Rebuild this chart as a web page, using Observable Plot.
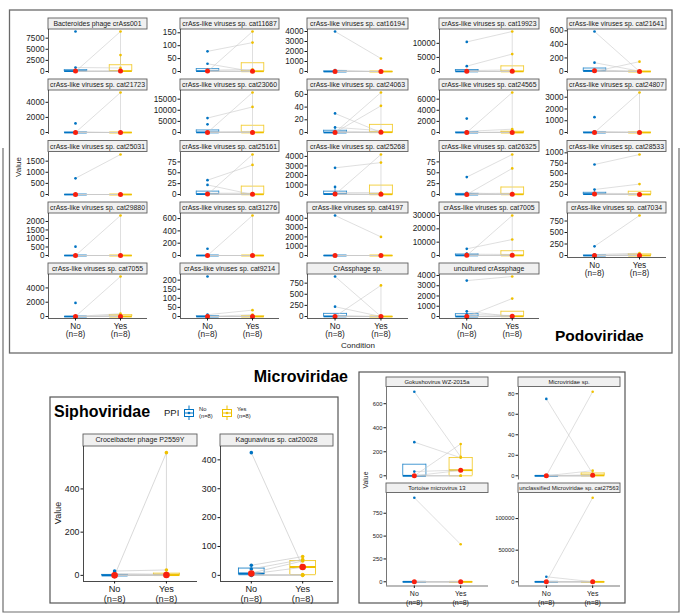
<!DOCTYPE html>
<html><head><meta charset="utf-8">
<script src="https://cdn.jsdelivr.net/npm/d3@7"></script>
<script src="https://cdn.jsdelivr.net/npm/@observablehq/plot@0.6"></script>
<style>
body{margin:0;background:#fff;}
#fig{position:relative;width:681px;height:614px;overflow:hidden;background:#fff;font-family:"Liberation Sans",Arial,Helvetica,sans-serif;}
#fig svg{position:absolute;}
</style></head><body><div id="fig"></div>
<script>
// ---------------- DATA ----------------
const conditions = ["No", "Yes"];
const nLabels = ["(n=8)", "(n=8)"];
const legendTitle = "PPI";
const groupTitles = ["Podoviridae", "Siphoviridae", "Microviridae"];

const podoNames = [
 "Bacteroides phage crAss001","crAss-like viruses sp. cat11687","crAss-like viruses sp. cat16194","crAss-like viruses sp. cat19923","crAss-like viruses sp. cat21641",
 "crAss-like viruses sp. cat21723","crAss-like viruses sp. cat23060","crAss-like viruses sp. cat24063","crAss-like viruses sp. cat24565","crAss-like viruses sp. cat24807",
 "crAss-like viruses sp. cat25031","crAss-like viruses sp. cat25161","crAss-like viruses sp. cat25268","crAss-like viruses sp. cat26325","crAss-like viruses sp. cat28533",
 "crAss-like viruses sp. cat29880","crAss-like viruses sp. cat31276","crAss-like viruses sp. cat4197","crAss-like viruses sp. cat7005","crAss-like viruses sp. cat7034",
 "crAss-like viruses sp. cat7055","crAss-like viruses sp. cat9214","CrAssphage sp.","uncultured crAssphage"];
const podoNo = [
 [9000,900,0,250,150,50,0,0],[0,78,30,5,3,0,0,0],[4000,150,0,0,0,0,0,0],[10500,1900,300,100,0,0,0,0],[590,0,130,25,15,5,0,0],
 [0,1200,100,0,0,0,0,0],[0,6500,3700,300,100,0,0,0],[0,0,30,8,2,0,0,0],[0,200,2500,0,0,0,0,0],[0,100,1300,0,0,0,0,0],
 [730,0,0,0,0,0,0,0],[0,33,22,3,2,0,0,0],[0,2800,800,200,100,0,0,0],[40,0,4,2,0,0,0,0],[720,120,30,20,0,0,0,0],
 [0,520,0,0,0,0,0,0],[0,110,0,0,0,0,0,0],[4300,0,0,0,0,0,0,0],[0,5000,1500,1000,200,0,0,0],[200,20,0,0,0,0,0,0],
 [0,1900,0,0,0,0,0,0],[220,10,0,0,0,0,0,0],[900,0,220,20,5,0,0,0],[3500,0,500,200,0,0,0,0]];
const podoYes = [
 [0,800,9000,3700,200,0,0,0],[155,112,0,8,2,0,0,0],[1300,0,0,0,0,0,0,0],[14200,6200,600,100,0,0,0,0],[0,145,5,0,0,0,0,0],
 [5300,0,0,0,0,0,0,0],[18000,11500,0,500,100,0,0,0],[63,42,0,3,1,0,0,0],[7200,600,0,100,0,0,0,0],[3400,50,0,0,0,0,0,0],
 [1800,0,0,0,0,0,0,0],[92,68,0,3,1,0,0,0],[4200,3350,0,200,50,0,0,0],[92,60,0,3,1,0,0,0],[960,250,20,5,0,0,0,0],
 [2350,0,0,0,0,0,0,0],[650,0,0,0,0,0,0,0],[2000,0,0,0,0,0,0,0],[30000,12000,0,800,200,0,0,0],[870,50,30,0,0,0,0,0],
 [5600,0,400,200,0,0,0,0],[0,35,10,0,0,0,0,0],[0,700,0,0,0,0,0,0],[3900,1750,0,100,50,0,0,0]];
const podoTicks = [
 [0,2500,5000,7500],[0,50,100,150],[0,1000,2000,3000,4000],[0,5000,10000],[0,200,400,600],
 [0,2000,4000],[0,5000,10000,15000],[0,20,40,60],[0,2000,4000,6000],[0,1000,2000,3000],
 [0,500,1000,1500],[0,25,50,75],[0,1000,2000,3000,4000],[0,25,50,75],[0,250,500,750,1000],
 [0,500,1000,1500,2000],[0,200,400,600],[0,1000,2000,3000,4000],[0,10000,20000,30000],[0,250,500,750],
 [0,2000,4000],[0,50,100,150,200],[0,250,500,750],[0,1000,2000,3000,4000]];
const podoVert = [1,1,0,1,0, 1,1,1,1,1, 0,1,1,1,0, 1,1,0,1,0, 1,0,1,0];
const podoUnlinked = [[0,3],[],[],[],[], [1],[2],[],[2],[2], [],[],[2],[],[], [1],[1],[],[2],[], [1],[0],[],[]];

const siphoNames = ["Croceibacter phage P2559Y","Kagunavirus sp. cat20028"];
const siphoNo = [[0,20,8,3,0,0,0,0],[425,35,22,8,5,3,0,0]];
const siphoYes = [[568,25,5,3,0,0,0,0],[30,65,55,50,28,3,0,0]];
const siphoTicks = [[0,200,400],[0,100,200,300,400]];
const siphoVert = [1,0];
const siphoUnlinked = [[],[]];

const microNames = ["Gokushovirus WZ-2015a","Microviridae sp.","Tortoise microvirus 13","unclassified Microviridae sp. cat27563"];
const microNo = [[700,280,0,35,0,0,0,0],[75,0,0,0,0,0,0,0],[920,0,0,0,0,0,0,0],[0,8000,0,0,0,0,0,0]];
const microYes = [[158,150,265,48,45,0,0,0],[2,82,5,1,0,0,0,0],[410,0,0,0,0,0,0,0],[133000,0,0,0,0,0,0,0]];
const microTicks = [[0,200,400,600],[0,20,40,60,80],[0,250,500,750],[0,50000,100000]];
const microVert = [0,0,0,0];
const microUnlinked = [[],[],[],[]];

// ---------------- STYLE ----------------
const FONT = '"Liberation Sans", Arial, Helvetica, sans-serif';
const BLUE = "#0073C2", YELLOW = "#EFC000", RED = "#F8200E", GREY = "#c9c9c9", INK = "#1a1a1a";
const BW = 0.25;
const fig = document.getElementById("fig");

const base = d3.select(fig).append("svg").attr("width", 681).attr("height", 614).style("left","0px").style("top","0px")
  .style("font-family", FONT);
function frame(x, y, w, h, stroke, sw, fill) {
  base.append("rect").attr("x", x).attr("y", y).attr("width", w).attr("height", h)
    .attr("fill", fill || "none").attr("stroke", stroke).attr("stroke-width", sw);
}
function label(x, y, text, size, opts = {}) {
  const t = base.append("text").attr("x", x).attr("y", y).attr("font-size", size)
    .attr("fill", opts.fill || INK).attr("text-anchor", opts.anchor || "start")
    .attr("dominant-baseline", opts.baseline || "auto").text(text);
  if (opts.bold) t.attr("font-weight", "bold");
  if (opts.rotate) t.attr("transform", `rotate(-90 ${x} ${y})`);
  return t;
}
// outer frame (left, bottom, right sides only; top hidden behind upper panel)
base.append("path").attr("d", "M3,148V612H679V148").attr("fill", "none").attr("stroke", "#6e6e6e").attr("stroke-width", 1.2);
frame(9.5, 10, 662.5, 343, "#6a6a6a", 1.3, "#fff");
frame(50, 397, 288, 206, "#555", 1.2, "#fff");
frame(359, 372, 266, 231, "#555", 1.2, "#fff");

function stats(vals) {
  const s = d3.sort(vals);
  const q1 = d3.quantile(s, 0.25), med = d3.quantile(s, 0.5), q3 = d3.quantile(s, 0.75), iqr = q3 - q1;
  const lo = Math.min(q1, d3.min(s.filter(v => v >= q1 - 1.5 * iqr)));
  const hi = Math.max(q3, d3.max(s.filter(v => v <= q3 + 1.5 * iqr)));
  return {q1, med, q3, lo, hi, max: d3.max(s)};
}

function panel(o) {
  base.append("rect").attr("x", o.left).attr("y", o.top - o.sh).attr("width", o.w).attr("height", o.sh)
    .attr("fill", "#f0f0f0").attr("stroke", "#5e5e5e").attr("stroke-width", 0.9);
  label(o.left + o.w / 2, o.top - o.sh / 2 + 0.4, o.name, o.sf, {anchor: "middle", baseline: "central"});

  const ns = stats(o.no), ys = stats(o.yes);
  const boxes = [{x: 1, c: BLUE, ...ns}, {x: 2, c: YELLOW, ...ys}];
  const all = o.no.concat(o.yes);
  const mn = d3.min(all), mx = d3.max(all), pad = (mx - mn) * 0.05;
  const lo = mn - pad, hi = mx + pad;
  const pairs = o.no.map((v, i) => ({no: v, yes: o.yes[i], i})).filter(d => !o.unlinked.includes(d.i));
  const pts = o.no.map(v => ({x: 1, v, c: BLUE})).concat(o.yes.map(v => ({x: 2, v, c: YELLOW})));
  const ml = 44, mr = 4, mt = 3, mb = o.showX ? 32 : 3;
  const bs = {stroke: "c", strokeOpacity: 0.8, strokeWidth: o.lw};
  const chart = Plot.plot({
    width: o.w + ml + mr, height: o.h + mt + mb,
    marginLeft: ml, marginRight: mr, marginTop: mt, marginBottom: mb,
    x: {domain: [0.4, 2.6], axis: null},
    y: {domain: [lo, hi], axis: null},
    color: {type: "identity"},
    style: {background: "transparent", overflow: "visible", fontFamily: FONT, color: INK},
    marks: [
      Plot.ruleX(boxes, {x: "x", y1: "lo", y2: "q1", ...bs}),
      Plot.ruleX(boxes, {x: "x", y1: "q3", y2: "hi", ...bs}),
      Plot.ruleX(boxes, {x: d => d.x - BW, y1: "q1", y2: "q3", ...bs}),
      Plot.ruleX(boxes, {x: d => d.x + BW, y1: "q1", y2: "q3", ...bs}),
      Plot.link(boxes, {x1: d => d.x - BW, x2: d => d.x + BW, y1: "q1", y2: "q1", ...bs}),
      Plot.link(boxes, {x1: d => d.x - BW, x2: d => d.x + BW, y1: "q3", y2: "q3", ...bs}),
      Plot.link(boxes, {x1: d => d.x - BW, x2: d => d.x + BW, y1: "med", y2: "med", stroke: "c", strokeWidth: o.lw * 2}),
      Plot.link(pairs, {x1: () => 1, x2: () => 2, y1: "no", y2: "yes", stroke: GREY, strokeWidth: o.gw}),
      o.vert ? Plot.ruleX([ys], {x: () => 2, y1: "med", y2: "max", stroke: GREY, strokeWidth: o.gw}) : null,
      Plot.dot(pts, {x: "x", y: "v", fill: "c", r: o.pr}),
      Plot.dot(boxes, {x: "x", y: "med", fill: RED, r: o.mr}),
      Plot.ruleX([0.4], {stroke: INK, strokeWidth: o.aw}),
      Plot.axisY(o.ticks, {tickSize: 2.5, tickPadding: 1.5, fontSize: o.tf, tickFormat: d => String(d), label: null}),
      o.showX ? Plot.ruleY([lo], {stroke: INK, strokeWidth: o.aw}) : null,
      o.showX ? Plot.axisX([1, 2], {tickSize: 2.5, tickPadding: 1.5, fontSize: o.xf, lineHeight: o.lh,
        tickFormat: d => `${conditions[d - 1]}\n${nLabels[d - 1]}`, label: null}) : null
    ]
  });
  chart.style.left = (o.left - ml) + "px";
  chart.style.top = (o.top - mt) + "px";
  fig.appendChild(chart);
}

// ---------- Podoviridae ----------
const podoColX = [48, 180, 307, 439, 567], podoColW = [99, 99, 101, 100, 99];
const podoRowStrip = [18, 79, 140.5, 202, 263];
podoNames.forEach((name, i) => {
  const r = Math.floor(i / 5), c = i % 5;
  panel({name, no: podoNo[i], yes: podoYes[i], ticks: podoTicks[i], vert: podoVert[i], unlinked: podoUnlinked[i],
    left: podoColX[c], w: podoColW[c], top: podoRowStrip[r] + 11, h: 44, sh: 11, sf: 6.9,
    showX: r === 4 || i === 19, tf: 8.2, xf: 8.3, lh: 1.05, pr: 1.35, mr: 2.5, lw: 0.9, gw: 0.6, aw: 0.7});
});
label(18, 167, "Value", 8, {anchor: "middle", baseline: "central", rotate: true});
label(358, 345, "Condition", 8, {anchor: "middle", baseline: "central"});
label(555, 341, groupTitles[0], 15.5, {bold: true, fill: "#000"});

// ---------- Siphoviridae ----------
const siphoColX = [83, 220], siphoColW = [114, 113];
siphoNames.forEach((name, i) => {
  panel({name, no: siphoNo[i], yes: siphoYes[i], ticks: siphoTicks[i], vert: siphoVert[i], unlinked: siphoUnlinked[i],
    left: siphoColX[i], w: siphoColW[i], top: 446, h: 135, sh: 12, sf: 7.1,
    showX: true, tf: 8.8, xf: 9.2, lh: 1.05, pr: 1.8, mr: 3.3, lw: 1, gw: 0.7, aw: 0.8});
});
label(58, 513, "Value", 9, {anchor: "middle", baseline: "central", rotate: true});
label(54, 417, groupTitles[1], 16, {bold: true, fill: "#000"});
label(164, 416, legendTitle, 9.5);
[[184, BLUE, 0], [222, YELLOW, 1]].forEach(([kx, col, k]) => {
  const g = base.append("g").attr("stroke", col).attr("stroke-width", 1).attr("fill", "none");
  g.append("line").attr("x1", kx + 5).attr("x2", kx + 5).attr("y1", 405.5).attr("y2", 420);
  g.append("rect").attr("x", kx + 0.5).attr("y", 409.5).attr("width", 9).attr("height", 7).attr("fill", "#fff");
  g.append("line").attr("x1", kx + 0.5).attr("x2", kx + 9.5).attr("y1", 413).attr("y2", 413);
  base.append("circle").attr("cx", kx + 5).attr("cy", 413).attr("r", 1.3).attr("fill", col);
  label(kx + 15, 410.5, conditions[k], 5.8);
  label(kx + 15, 417.5, nLabels[k], 5.8);
});

// ---------- Microviridae ----------
const microColX = [386, 518], microRowStrip = [377, 483];
microNames.forEach((name, i) => {
  const r = Math.floor(i / 2), c = i % 2;
  panel({name, no: microNo[i], yes: microYes[i], ticks: microTicks[i], vert: microVert[i], unlinked: microUnlinked[i],
    left: microColX[c], w: 102, top: microRowStrip[r] + 9.5, h: 92.5, sh: 9.5, sf: 5.9,
    showX: r === 1, tf: 5.8, xf: 7, lh: 1.25, pr: 1.3, mr: 2.5, lw: 0.9, gw: 0.6, aw: 0.6});
});
label(365, 480, "Value", 6.8, {anchor: "middle", baseline: "central", rotate: true});
label(348, 382, groupTitles[2], 16, {bold: true, fill: "#000", anchor: "end"});
</script></body></html>
